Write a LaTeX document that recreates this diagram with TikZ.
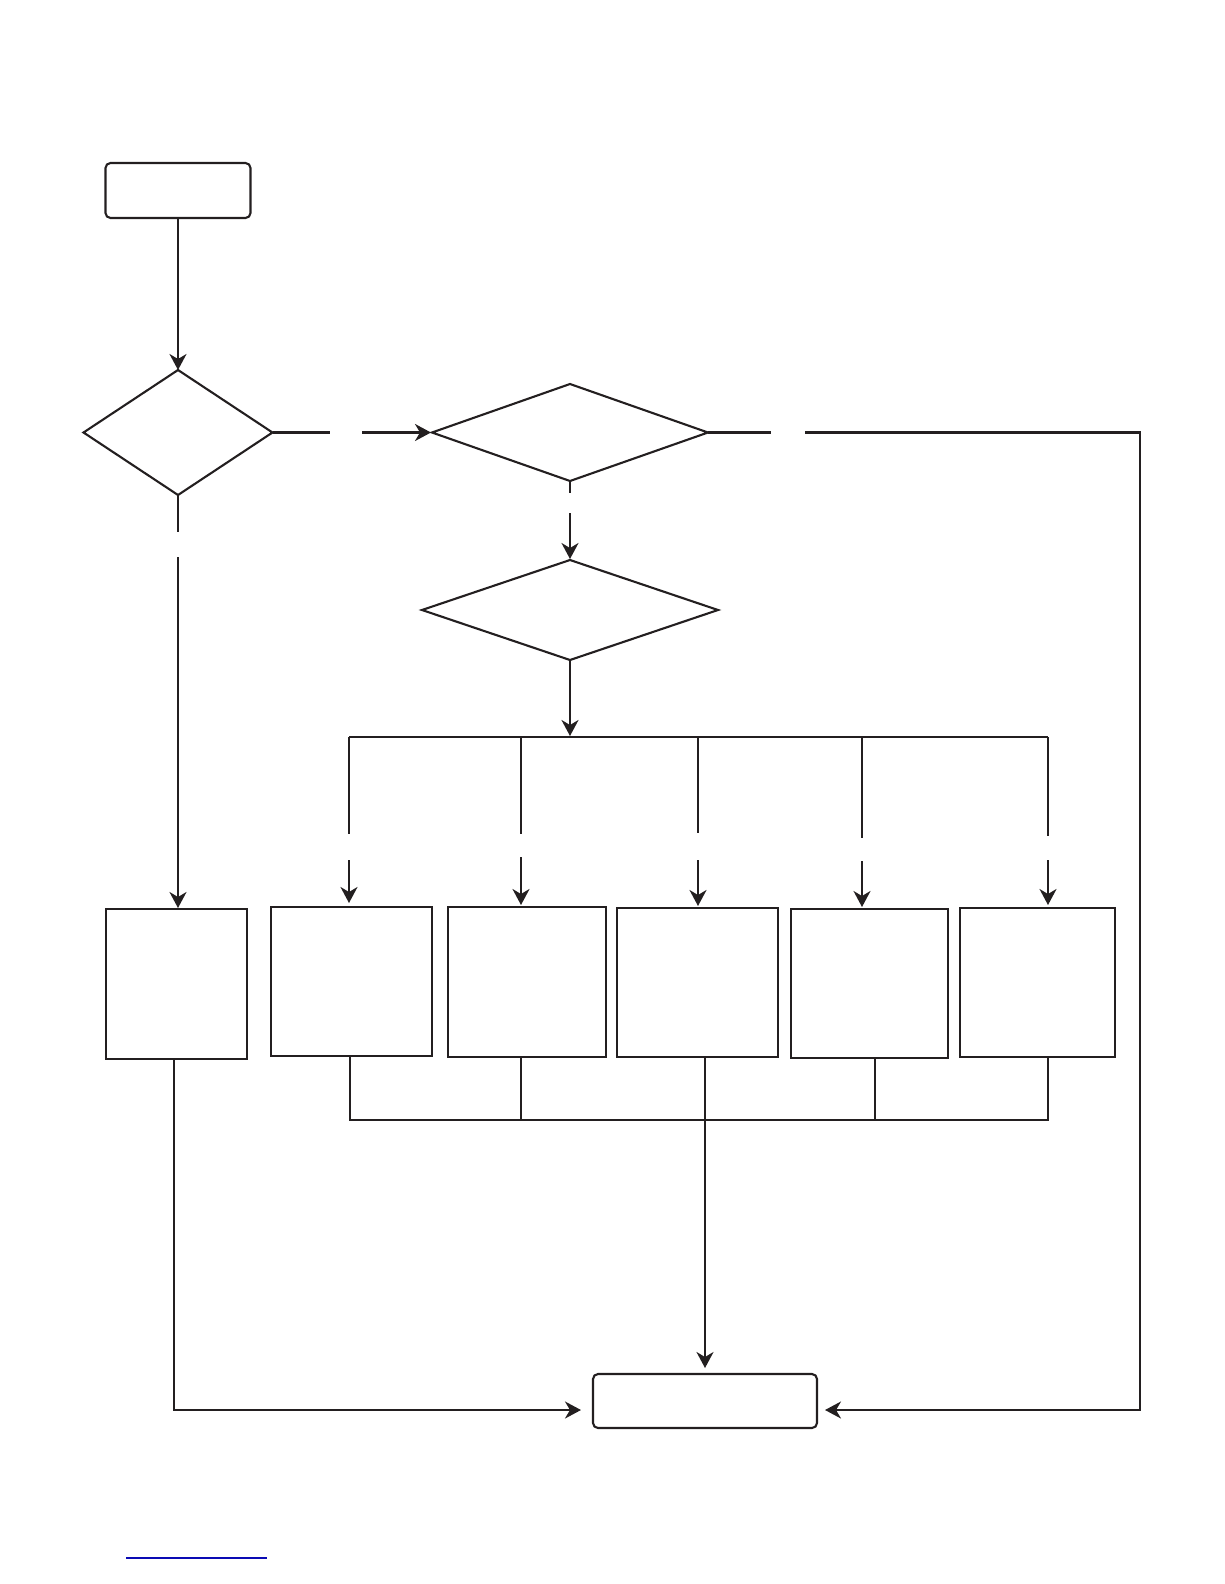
\documentclass[tikz,border=0pt]{standalone}
\usetikzlibrary{shapes.geometric,arrows.meta}
\definecolor{lineblue}{RGB}{10,10,180}
\definecolor{ink}{RGB}{35,31,32}
\begin{document}
\begin{tikzpicture}[x=1pt,y=-1pt,color=ink,line width=2.1pt,
  flow/.style={draw=ink,line width=2.1pt,inner sep=0pt,outer sep=0pt},
  terminal/.style={flow,rectangle,rounded corners=5pt},
  decision/.style={flow,diamond},
  procbox/.style={flow,rectangle},
  arr/.style={-{Stealth[length=16pt,width=17pt,inset=5pt]}},
  bluerule/.style={draw=lineblue,line width=1.6pt}]
\useasboundingbox (0,0) rectangle (1224,1584);
% nodes
\node[terminal,minimum width=145pt,minimum height=55pt] (start) at (178,190.5) {};
\node[decision,minimum width=189pt,minimum height=125pt] (d1) at (178,432.5) {};
\node[decision,minimum width=276pt,minimum height=97pt] (d2) at (570,432.5) {};
\node[decision,minimum width=296pt,minimum height=100pt] (d3) at (570,610) {};
\node[procbox,minimum width=141pt,minimum height=150pt] (L) at (176.5,984) {};
\node[procbox,minimum width=161pt,minimum height=149pt] (B1) at (351.5,981.5) {};
\node[procbox,minimum width=158pt,minimum height=150pt] (B2) at (527,982) {};
\node[procbox,minimum width=161pt,minimum height=149pt] (B3) at (697.5,982.5) {};
\node[procbox,minimum width=157pt,minimum height=149pt] (B4) at (869.5,983.5) {};
\node[procbox,minimum width=155pt,minimum height=149pt] (B5) at (1037.5,982.5) {};
\node[terminal,minimum width=224pt,minimum height=54pt] (E) at (705,1401) {};
% coordinates
\coordinate (g1a) at (330,432.5);
\coordinate (g1b) at (362,432.5);
\coordinate (g2a) at (771,432.5);
\coordinate (g2b) at (805,432.5);
\coordinate (rc1) at (1140,432.5);
\coordinate (rc2) at (1140,1410);
\coordinate (g3a) at (570,493);
\coordinate (g3b) at (570,513);
\coordinate (g4a) at (178,532);
\coordinate (g4b) at (178,557);
\coordinate (bus) at (570,737);
\coordinate (busL) at (349,737);
\coordinate (busR) at (1048,737);
\coordinate (lb1) at (174,1059);
\coordinate (lb2) at (174,1410);
\coordinate (bbL) at (350,1120);
\coordinate (bbR) at (1048,1120);
% top part
\draw[arr] (start) -- (d1);
\draw (d1.east) -- (g1a);
\draw[arr,shorten >=1pt] (g1b) -- (d2.west);
\draw (d2.east) -- (g2a);
\draw[arr,shorten >=8pt] (g2b) -- (rc1) -- (rc2) -- (rc2 -| E.east);
\draw (d2.south) -- (g3a);
\draw[arr,shorten >=1pt] (g3b) -- (d3.north);
\draw (d1.south) -- (g4a);
\draw[arr,shorten >=1pt] (g4b) -- (g4b |- L.north);
\draw[arr,shorten >=1pt] (d3.south) -- (bus);
\draw (busL) -- (busR);
% branches
\draw (busL) -- (349,834);
\draw[arr,shorten >=4pt] (349,860) -- (B1.north -| 349,0);
\draw (521,737) -- (521,834);
\draw[arr,shorten >=2pt] (521,857) -- (B2.north -| 521,0);
\draw (698,737) -- (698,833);
\draw[arr,shorten >=2pt] (698,860) -- (B3.north -| 698,0);
\draw (862,737) -- (862,838);
\draw[arr,shorten >=2pt] (862,861) -- (B4.north -| 862,0);
\draw (busR) -- (1048,836);
\draw[arr,shorten >=3pt] (1048,860) -- (B5.north -| 1048,0);
% bottom collection
\draw (B1.south -| 350,0) -- (bbL) -- (bbR) -- (B5.south -| 1048,0);
\draw (B2.south -| 521,0) -- (521,1120);
\draw (B4.south -| 875,0) -- (875,1120);
\draw[arr,shorten >=6pt] (B3.south -| 705,0) -- (E.north);
\draw[arr,shorten >=12pt] (L.south -| lb1) -- (lb2) -- (lb2 -| E.west);
% blue rule
\draw[bluerule] (126,1558) -- (267,1558);
\end{tikzpicture}
\end{document}
